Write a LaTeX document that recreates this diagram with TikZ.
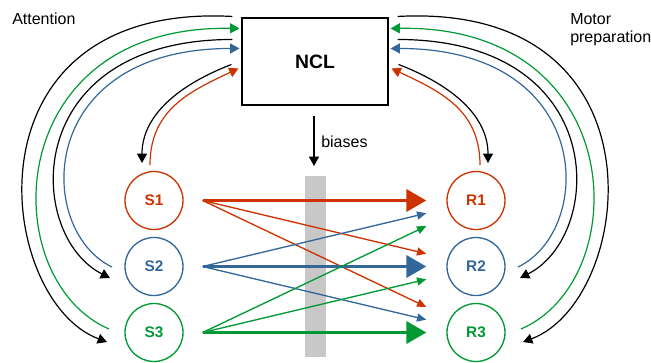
\documentclass[tikz,border=0pt]{standalone}
\usepackage{fontspec}
\setmainfont{Liberation Sans}
\usepackage{tikz}
\usetikzlibrary{arrows.meta,positioning,calc}
\definecolor{cred}{HTML}{CC3300}
\definecolor{cblue}{HTML}{336699}
\definecolor{cgreen}{HTML}{009933}
\definecolor{cgray}{HTML}{C8C8C8}
\tikzset{
  ncbox/.style={draw,line width=0.8pt,minimum width=109.5pt,minimum height=65.25pt,inner sep=0pt,font=\fontsize{14.5}{16}\selectfont\bfseries},
  circ/.style={draw=#1,text=#1,circle,line width=1pt,minimum size=43.5pt,inner sep=0pt,font=\fontsize{11.5}{13}\selectfont\bfseries},
  fb/.style={line width=0.9pt,draw=#1},
  fb/.default={black},
  tip/.style={-{Triangle[length=7pt,width=7.5pt]}},
  thn/.style={line width=1pt,draw=#1,-{Triangle[length=7pt,width=6pt,fill=#1]}},
  thk/.style={line width=2.8pt,draw=#1,-{Triangle[length=15pt,width=16.5pt,fill=#1]}},
  lbl/.style={inner sep=0pt,font=\fontsize{12}{13.5}\selectfont},
}
\begin{document}
\begin{tikzpicture}[x=0.75pt,y=-0.75pt]
 \useasboundingbox (0,0) rectangle (651,362);
 % gray bias bar
 \fill[cgray] (305,176) rectangle (326,357);
 \node[ncbox] (ncl) at (315,61.5) {NCL};
 \node[circ=cred] (S1) at (154,200.5) {S1}; \node[circ=cblue] (S2) at (154,266.5) {S2}; \node[circ=cgreen] (S3) at (154,332.5) {S3};
 \node[circ=cred] (R1) at (476,200.5) {R1}; \node[circ=cblue] (R2) at (476,266.5) {R2}; \node[circ=cgreen] (R3) at (476,332.5) {R3};
 \node[lbl,anchor=base west] (att) at (12,24.3) {Attention};
 \node[lbl,anchor=north west,align=left] (mot) at (570,13) {Motor\\preparation};
 % biases
 \coordinate (bs) at ($(ncl.south)+(-1,10)$); \coordinate (be) at (314,166);
 \draw[line width=0.9pt,tip] (bs) -- (be);
 \node[lbl,anchor=base west] (bias) at (321,147) {biases};
 % S -> R
 \foreach \s/\c [count=\i] in {S1/cred,S2/cblue,S3/cgreen}{
   \foreach \r [count=\j] in {R1,R2,R3}{
     \pgfmathsetmacro\off{12.8*(\i-\j)}
     \ifnum\i=\j
       \draw[thk=\c] ($(\s.east)+(19,0)$) -- ($(\r.west)+(-20,0)$);
     \else
       \draw[thn=\c] ($(\s.east)+(19,0)$) -- ($(\r.west)+(-20,\off)$);
     \fi
   }
 }
 % feedback, left
 \coordinate (la) at ($(ncl.north west)+(-9,-1)$); \coordinate (lb) at ($(ncl.north west)+(-2,11)$);
 \coordinate (lc) at ($(ncl.north west)+(-9,22)$); \coordinate (ld) at ($(ncl.north west)+(-2,31)$);
 \coordinate (le) at ($(ncl.north west)+(-10,47)$); \coordinate (lf) at ($(ncl.north west)+(-3,51)$);
 \draw[fb,tip] (la) .. controls +(-273,-15) and +(-112,-42) .. ($(S3)+(-47,9.5)$);
 \draw[fb=cgreen,-{Triangle[length=7pt,width=7.5pt,fill=cgreen]}] ($(S3)+(-45,-3.5)$) .. controls +(-114,-49) and +(-240,-4) .. (lb);
 \draw[fb,tip] (lc) .. controls +(-213,0) and +(-85,-43) .. ($(S2)+(-44,11.5)$);
 \draw[fb=cblue,-{Triangle[length=7pt,width=7.5pt,fill=cblue]}] ($(S2)+(-42,0.5)$) .. controls +(-77,-37) and +(-205,0) .. (ld);
 \draw[fb,tip] (le) .. controls +(-52,20) and +(0,-48) .. ($(S1)+(-12,-37.5)$);
 \draw[fb=cred,-{Triangle[length=7pt,width=7.5pt,fill=cred]}] ($(S1)+(-4,-35.5)$) .. controls +(0,-55) and +(-49,23) .. (lf);
 % feedback, right
 \coordinate (ra) at ($(ncl.north east)+(9,-1)$); \coordinate (rb) at ($(ncl.north east)+(2,11)$);
 \coordinate (rc) at ($(ncl.north east)+(9,22)$); \coordinate (rd) at ($(ncl.north east)+(2,31)$);
 \coordinate (re) at ($(ncl.north east)+(10,47)$); \coordinate (rf) at ($(ncl.north east)+(3,51)$);
 \draw[fb,tip] (ra) .. controls +(273,-15) and +(112,-42) .. ($(R3)+(47,9.5)$);
 \draw[fb=cgreen,-{Triangle[length=7pt,width=7.5pt,fill=cgreen]}] ($(R3)+(45,-3.5)$) .. controls +(114,-49) and +(240,-4) .. (rb);
 \draw[fb,tip] (rc) .. controls +(213,0) and +(85,-43) .. ($(R2)+(44,11.5)$);
 \draw[fb=cblue,-{Triangle[length=7pt,width=7.5pt,fill=cblue]}] ($(R2)+(42,0.5)$) .. controls +(77,-37) and +(205,0) .. (rd);
 \draw[fb,tip] (re) .. controls +(52,20) and +(0,-48) .. ($(R1)+(12,-37.5)$);
 \draw[fb=cred,-{Triangle[length=7pt,width=7.5pt,fill=cred]}] ($(R1)+(4,-35.5)$) .. controls +(0,-55) and +(49,23) .. (rf);
\end{tikzpicture}
\end{document}
